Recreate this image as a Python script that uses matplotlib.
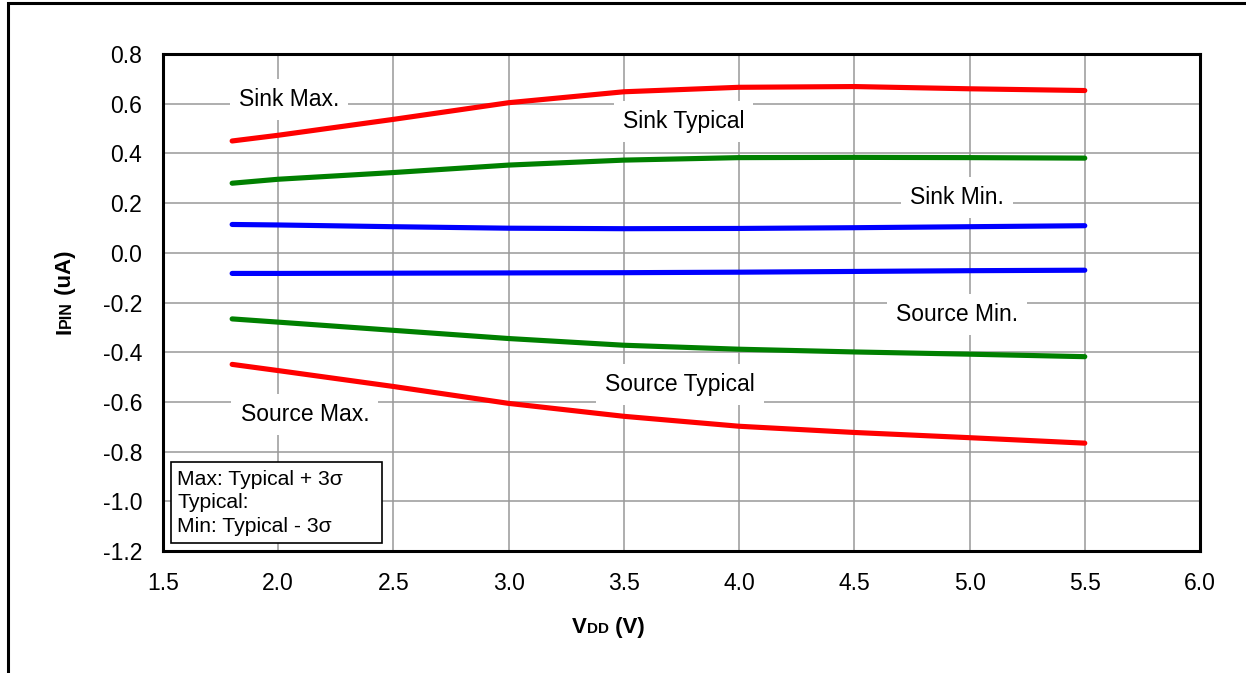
import matplotlib
matplotlib.use('Agg')
import matplotlib.pyplot as plt
from matplotlib.patches import Rectangle

plt.rcParams['font.family'] = ['Liberation Sans', 'DejaVu Sans']

# ---------------- data ----------------
vdd = [1.8, 2.0, 2.5, 3.0, 3.5, 4.0, 4.5, 5.0, 5.5]
sink_max = [0.450, 0.473, 0.537, 0.604, 0.648, 0.666, 0.669, 0.660, 0.653]
sink_typ = [0.280, 0.296, 0.323, 0.353, 0.373, 0.383, 0.384, 0.383, 0.381]
sink_min = [0.114, 0.112, 0.105, 0.099, 0.097, 0.098, 0.101, 0.105, 0.109]
source_min = [-0.083, -0.083, -0.082, -0.081, -0.080, -0.078, -0.075, -0.072, -0.070]
source_typ = [-0.266, -0.279, -0.312, -0.345, -0.372, -0.388, -0.399, -0.408, -0.418]
source_max = [-0.449, -0.474, -0.538, -0.606, -0.658, -0.698, -0.723, -0.744, -0.766]

x_ticks = [1.5, 2.0, 2.5, 3.0, 3.5, 4.0, 4.5, 5.0, 5.5, 6.0]
x_tick_labels = ['1.5', '2.0', '2.5', '3.0', '3.5', '4.0', '4.5', '5.0', '5.5', '6.0']
y_ticks = [-1.2, -1.0, -0.8, -0.6, -0.4, -0.2, 0.0, 0.2, 0.4, 0.6, 0.8]
y_tick_labels = ['-1.2', '-1.0', '-0.8', '-0.6', '-0.4', '-0.2', '0.0', '0.2', '0.4', '0.6', '0.8']

series = [
    (sink_max, '#FF0000'),
    (sink_typ, '#008000'),
    (sink_min, '#0000FF'),
    (source_min, '#0000FF'),
    (source_typ, '#008000'),
    (source_max, '#FF0000'),
]

curve_labels = ['Sink Max.', 'Sink Typical', 'Sink Min.',
                'Source Min.', 'Source Typical', 'Source Max.']
label_pos = [(2.047, 0.590), (3.759, 0.501), (4.946, 0.196),
             (4.946, -0.275), (3.744, -0.557), (2.116, -0.677)]

note_lines = ['Max: Typical + 3σ', 'Typical:', 'Min: Typical - 3σ']

# ---------------- figure ----------------
W, H = 1246, 673
fig = plt.figure(figsize=(W / 100, H / 100), dpi=100)
fig.patch.set_facecolor('white')

def fx(px):
    return px / W

def fy(py):
    return 1 - py / H

ax = fig.add_axes([fx(163), fy(551), fx(1200) - fx(163), fy(54) - fy(551)])
ax.set_xlim(1.5, 6.0)
ax.set_ylim(-1.2, 0.8)
ax.set_xticks(x_ticks)
ax.set_xticklabels(x_tick_labels)
ax.set_yticks(y_ticks)
ax.set_yticklabels(y_tick_labels)
ax.tick_params(length=0, labelsize=16.5, pad=15, colors='black')
ax.grid(True, color='#999999', linewidth=1.1)
ax.set_axisbelow(True)
for sp in ax.spines.values():
    sp.set_linewidth(2.2)
    sp.set_color('black')

for ys, c in series:
    ax.plot(vdd, ys, color=c, linewidth=3.7, solid_capstyle='round',
            solid_joinstyle='round', zorder=3)

for lab, (lx, ly) in zip(curve_labels, label_pos):
    ax.text(lx, ly, lab, ha='center', va='baseline', fontsize=16.5,
            color='black', zorder=5,
            bbox=dict(boxstyle='square,pad=0.4', facecolor='white',
                      edgecolor='none'))

# note box
fig.patches.append(Rectangle((fx(171), fy(542.7)), fx(382.3) - fx(171),
                             fy(461.7) - fy(542.7), transform=fig.transFigure,
                             fill=True, facecolor='white', edgecolor='black',
                             linewidth=1.2, zorder=10))
for i, line in enumerate(note_lines):
    fig.text(fx(177), fy(485 + 23.3 * i), line, ha='left', va='baseline',
             fontsize=15.2, color='black', zorder=11)

# outer frame
fig.patches.append(Rectangle((fx(7.5), -0.1), 1.2, 1.1 + (fy(3) - 1),
                             transform=fig.transFigure, fill=False,
                             edgecolor='black', linewidth=2.2, zorder=20))

# composite axis labels
fig.canvas.draw()
renderer = fig.canvas.get_renderer()


def composite(pieces, cx, cy, rotation=0):
    texts = []
    for s, size in pieces:
        t = fig.text(0, 0, s, fontsize=size, fontweight='bold',
                     ha='left', va='baseline', rotation=rotation,
                     rotation_mode='anchor', color='black')
        texts.append(t)
    lengths = []
    for t in texts:
        bb = t.get_window_extent(renderer)
        lengths.append(bb.height if rotation == 90 else bb.width)
    total = sum(lengths)
    pos = -total / 2
    for t, L in zip(texts, lengths):
        if rotation == 90:
            t.set_position((fx(cx), fy(cy) + pos / H))
        else:
            t.set_position((fx(cx) + pos / W, fy(cy)))
        pos += L


composite([('V', 16), ('DD', 11), (' (V)', 16)], 608, 632.7)
composite([('I', 16), ('PIN', 11.5), (' (uA)', 16)], 71, 292, rotation=90)

fig.savefig('out.png', dpi=100)
